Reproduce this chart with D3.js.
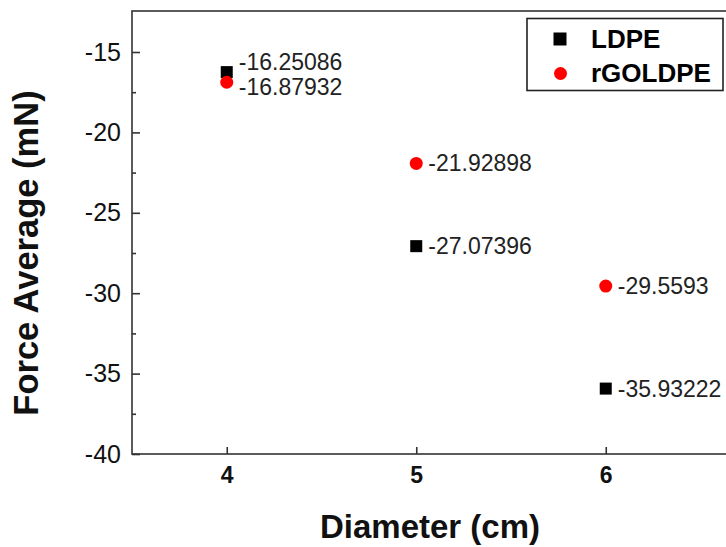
<!DOCTYPE html>
<html>
<head>
<meta charset="utf-8">
<script src="https://cdn.jsdelivr.net/npm/d3@7"></script>
<style>
  html, body { margin: 0; padding: 0; background: #fff; }
  svg { display: block; font-family: "Liberation Sans", Arial, sans-serif; }
</style>
</head>
<body>
<svg id="chart" width="726" height="547"></svg>
<script>
// Diameters tested and the average force recorded for each film
const diameters = [4, 5, 6];
const ldpe = [-16.25086, -27.07396, -35.93222];
const rgoldpe = [-16.87932, -21.92898, -29.5593];
const seriesNames = ["LDPE", "rGOLDPE"];
const yTicks = [-15, -20, -25, -30, -35, -40];
const yMinorTicks = [-17.5, -22.5, -27.5, -32.5, -37.5];
const xTicks = [4, 5, 6];

const svg = d3.select("#chart");
const plotLeft = 132, plotTop = 11, plotBottom = 454, plotRight = 786;
const FONT = "Liberation Sans, Arial, sans-serif";

const x = d3.scaleLinear().domain([3.5, 6.7]).range([plotLeft, plotLeft + (6.7 - 3.5) * 189.5]);
const y = d3.scaleLinear().domain([-40, -12.45]).range([plotBottom, plotTop]);

// Frame
const g = svg.append("g");
g.append("rect")
  .attr("x", plotLeft).attr("y", plotTop)
  .attr("width", plotRight - plotLeft).attr("height", plotBottom - plotTop)
  .attr("fill", "none").attr("stroke", "#333").attr("stroke-width", 1.6);

// Y axis with inward ticks
const yAxis = d3.axisLeft(y).tickValues(yTicks).tickSizeInner(-8).tickSizeOuter(0)
  .tickFormat((d) => String(d));
const ya = g.append("g").attr("transform", `translate(${plotLeft},0)`).call(yAxis);
ya.select(".domain").remove();
ya.selectAll(".tick line").attr("stroke", "#333").attr("stroke-width", 1.6);
ya.selectAll(".tick text").attr("font-size", 25).attr("fill", "#111")
  .attr("x", -11).attr("font-family", FONT);

const yMinor = d3.axisLeft(y).tickValues(yMinorTicks).tickSizeInner(-4).tickSizeOuter(0).tickFormat("");
const ym = g.append("g").attr("transform", `translate(${plotLeft},0)`).call(yMinor);
ym.select(".domain").remove();
ym.selectAll(".tick line").attr("stroke", "#333").attr("stroke-width", 1.6);

// X axis with inward ticks
const xAxis = d3.axisBottom(x).tickValues(xTicks).tickSizeInner(-7).tickSizeOuter(0)
  .tickPadding(13).tickFormat(d3.format("d"));
const xa = g.append("g").attr("transform", `translate(0,${plotBottom})`).call(xAxis);
xa.select(".domain").remove();
xa.selectAll(".tick line").attr("stroke", "#333").attr("stroke-width", 1.6);
xa.selectAll(".tick text").attr("font-size", 23).attr("font-weight", "bold").attr("fill", "#111")
  .attr("font-family", FONT);

// Axis titles
svg.append("text")
  .attr("x", 430).attr("y", 538)
  .attr("text-anchor", "middle")
  .attr("font-size", 33).attr("font-weight", "bold").attr("fill", "#111")
  .text("Diameter (cm)");

svg.append("text")
  .attr("transform", "translate(38,253) rotate(-90)")
  .attr("text-anchor", "middle")
  .attr("font-size", 34.5).attr("font-weight", "bold").attr("fill", "#111")
  .text("Force Average (mN)");

// Points
const sq = 12;
g.selectAll("rect.ldpe").data(diameters).join("rect")
  .attr("class", "ldpe")
  .attr("x", (d) => x(d) - sq / 2)
  .attr("y", (d, i) => y(ldpe[i]) - sq / 2)
  .attr("width", sq).attr("height", sq)
  .attr("fill", "#000");

g.selectAll("circle.rgo").data(diameters).join("circle")
  .attr("class", "rgo")
  .attr("cx", (d) => x(d))
  .attr("cy", (d, i) => y(rgoldpe[i]))
  .attr("r", 6.5)
  .attr("fill", "#f00");

// Value labels (the first pair is nudged apart so they don't collide)
const labelShift = { ldpe: [-10, 0, 0], rgo: [5, 0, 0] };
g.selectAll("text.ldpe").data(diameters).join("text")
  .attr("class", "ldpe")
  .attr("x", (d) => x(d) + 12)
  .attr("y", (d, i) => y(ldpe[i]) + labelShift.ldpe[i])
  .attr("dy", "0.35em")
  .attr("font-size", 23).attr("fill", "#222")
  .text((d, i) => ldpe[i]);

g.selectAll("text.rgo").data(diameters).join("text")
  .attr("class", "rgo")
  .attr("x", (d) => x(d) + 12)
  .attr("y", (d, i) => y(rgoldpe[i]) + labelShift.rgo[i])
  .attr("dy", "0.35em")
  .attr("font-size", 23).attr("fill", "#222")
  .text((d, i) => rgoldpe[i]);

// Legend
const lg = svg.append("g");
lg.append("rect")
  .attr("x", 527).attr("y", 18.5).attr("width", 196).attr("height", 72)
  .attr("fill", "#fff").attr("stroke", "#222").attr("stroke-width", 1.6);
lg.append("rect").attr("x", 553.5).attr("y", 32.5).attr("width", 13).attr("height", 13).attr("fill", "#000");
lg.append("circle").attr("cx", 560.5).attr("cy", 73.5).attr("r", 6.5).attr("fill", "#f00");
lg.selectAll("text").data(seriesNames).join("text")
  .attr("x", 591).attr("y", (d, i) => 39 + i * 34)
  .attr("dy", "0.35em")
  .attr("font-size", 26).attr("font-weight", "bold").attr("fill", "#000")
  .text((d) => d);
</script>
</body>
</html>
